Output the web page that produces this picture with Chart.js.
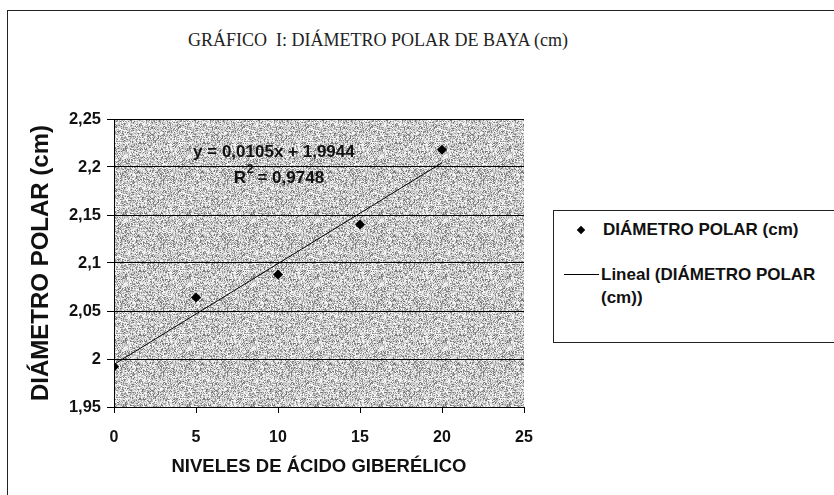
<!DOCTYPE html>
<html>
<head>
<meta charset="utf-8">
<script src="https://cdn.jsdelivr.net/npm/chart.js@4.4.0/dist/chart.umd.min.js"></script>
<style>
    body { margin: 0; background: #fff; overflow: hidden; }
    #wrap { position: relative; width: 834px; height: 495px; overflow: hidden; }
    #frame { position: absolute; left: 7px; top: 10px; width: 900px; height: 600px; border: 1px solid #222; }
    #title { position: absolute; left: 0; width: 756px; top: 30px; text-align: center;
             font-family: "Liberation Serif", "Times New Roman", serif; font-size: 18px; color: #222; }
    #legend { position: absolute; left: 553px; top: 210px; width: 400px; height: 131px;
              border: 1px solid #222; background: #fff;
              font-family: "Liberation Sans", Arial, sans-serif; font-size: 17px; font-weight: bold; color: #111; }
    .item { position: absolute; left: 0; white-space: nowrap; line-height: 23px; }
    .dia { position: absolute; width: 6px; height: 6px; background: #000; transform: rotate(45deg); }
    .ln { position: absolute; height: 1px; background: #000; }
    canvas { position: absolute; left: 0; top: 0; }
</style>
</head>
<body>
<div id="wrap">
    <div id="frame"></div>
    <div id="title">GRÁFICO&nbsp; I: DIÁMETRO POLAR DE BAYA (cm)</div>
    <canvas id="chart" width="834" height="495"></canvas>
    <div id="legend">
        <div class="dia" style="left:24px;top:16px;"></div>
        <div class="item" style="left:49px;top:7px;">DIÁMETRO POLAR (cm)</div>
        <div class="ln" style="left:10px;top:63px;width:35px;"></div>
        <div class="item" style="left:47px;top:52px;">Lineal (DIÁMETRO POLAR<br>(cm))</div>
    </div>
</div>
<script>
// niveles de acido giberelico
const niveles = [0, 5, 10, 15, 20];
// diametro polar medido (cm)
const diametro = [1.992, 2.064, 2.088, 2.140, 2.218];
// linea de tendencia: extremos de y = 0,0105x + 1,9944
const tendenciaX = [0, 20];
const tendenciaY = [1.9944, 2.2044];
const ecuacion = 'y = 0,0105x + 1,9944';
const r2 = '0,9748';

const fmt = v => String(+v.toFixed(2)).replace('.', ',');
const FONT = '"Liberation Sans", Arial, sans-serif';

// fondo gris granulado (textura fija, no son datos)
function makeTexture() {
    const c = document.createElement('canvas');
    c.width = 64; c.height = 64;
    const g = c.getContext('2d');
    const img = g.createImageData(64, 64);
    const tones = [120, 155, 180, 195, 210, 225, 240, 250];
    let h = 12345;
    for (let i = 0; i < 64 * 64; i++) {
        h = (h * 1103515245 + 12345) & 0x7fffffff;
        const t = tones[(h >> 16) % tones.length];
        img.data[i * 4] = t; img.data[i * 4 + 1] = t; img.data[i * 4 + 2] = t; img.data[i * 4 + 3] = 255;
    }
    g.putImageData(img, 0, 0);
    return c;
}

const plotBg = {
    id: 'plotBg',
    beforeDraw(chart) {
        const a = chart.chartArea, c = chart.ctx;
        c.save();
        c.fillStyle = c.createPattern(makeTexture(), 'repeat');
        c.fillRect(a.left, a.top, a.right - a.left, a.bottom - a.top);
        c.restore();
    }
};

const eqLabel = {
    id: 'eqLabel',
    afterDatasetsDraw(chart) {
        const a = chart.chartArea, c = chart.ctx;
        const cx = a.left + (a.right - a.left) * 0.39;
        c.save();
        c.fillStyle = '#111';
        c.font = 'bold 17px ' + FONT;
        c.textAlign = 'center';
        c.textBaseline = 'middle';
        c.fillText(ecuacion, cx, a.top + 33);
        const w = c.measureText('R  = ' + r2).width;
        const sx = cx + 4 - w / 2;
        c.textAlign = 'left';
        c.fillText('R', sx, a.top + 59);
        c.font = 'bold 12px ' + FONT;
        c.fillText('2', sx + 13, a.top + 51);
        c.font = 'bold 17px ' + FONT;
        c.fillText(' = ' + r2, sx + 19, a.top + 59);
        c.restore();
    }
};

const ctx = document.getElementById('chart').getContext('2d');
new Chart(ctx, {
    type: 'scatter',
    data: {
        datasets: [{
            label: 'DIÁMETRO POLAR (cm)',
            data: niveles.map((x, i) => ({ x: x, y: diametro[i] })),
            pointStyle: 'rectRot',
            pointRadius: 5,
            backgroundColor: '#000',
            borderColor: '#000',
            borderWidth: 0,
            order: 1
        }, {
            label: 'Lineal (DIÁMETRO POLAR (cm))',
            type: 'line',
            data: tendenciaX.map((x, i) => ({ x: x, y: tendenciaY[i] })),
            borderColor: '#000',
            borderWidth: 1,
            pointRadius: 0,
            fill: false,
            order: 2
        }]
    },
    options: {
        responsive: false,
        animation: false,
        layout: { padding: { left: 20, top: 119, right: 310, bottom: 0 } },
        plugins: {
            legend: { display: false },
            title: { display: false },
            tooltip: { enabled: false }
        },
        scales: {
            x: {
                type: 'linear',
                min: 0, max: 25,
                afterFit: s => { s.height = 88; },
                ticks: {
                    stepSize: 5,
                    color: '#111',
                    padding: 15,
                    font: { family: FONT, size: 16, weight: 'bold' }
                },
                grid: { drawOnChartArea: false, color: '#000', tickLength: 6 },
                border: { color: '#000', width: 1 },
                title: {
                    display: true,
                    text: 'NIVELES DE ÁCIDO GIBERÉLICO',
                    color: '#111',
                    padding: { top: 4, bottom: 17 },
                    font: { family: FONT, size: 18.5, weight: 'bold' }
                }
            },
            y: {
                min: 1.95, max: 2.25,
                afterFit: s => { s.width = 94; },
                ticks: {
                    stepSize: 0.05,
                    color: '#111',
                    padding: 6,
                    callback: v => fmt(v),
                    font: { family: FONT, size: 16.5, weight: 'bold' }
                },
                grid: { color: '#000', lineWidth: 1, tickLength: 7 },
                border: { color: '#000', width: 1 },
                title: {
                    display: true,
                    text: 'DIÁMETRO POLAR (cm)',
                    color: '#111',
                    padding: { top: 7, bottom: 4 },
                    font: { family: FONT, size: 24, weight: 'bold' }
                }
            }
        }
    },
    plugins: [plotBg, eqLabel]
});
</script>
</body>
</html>
